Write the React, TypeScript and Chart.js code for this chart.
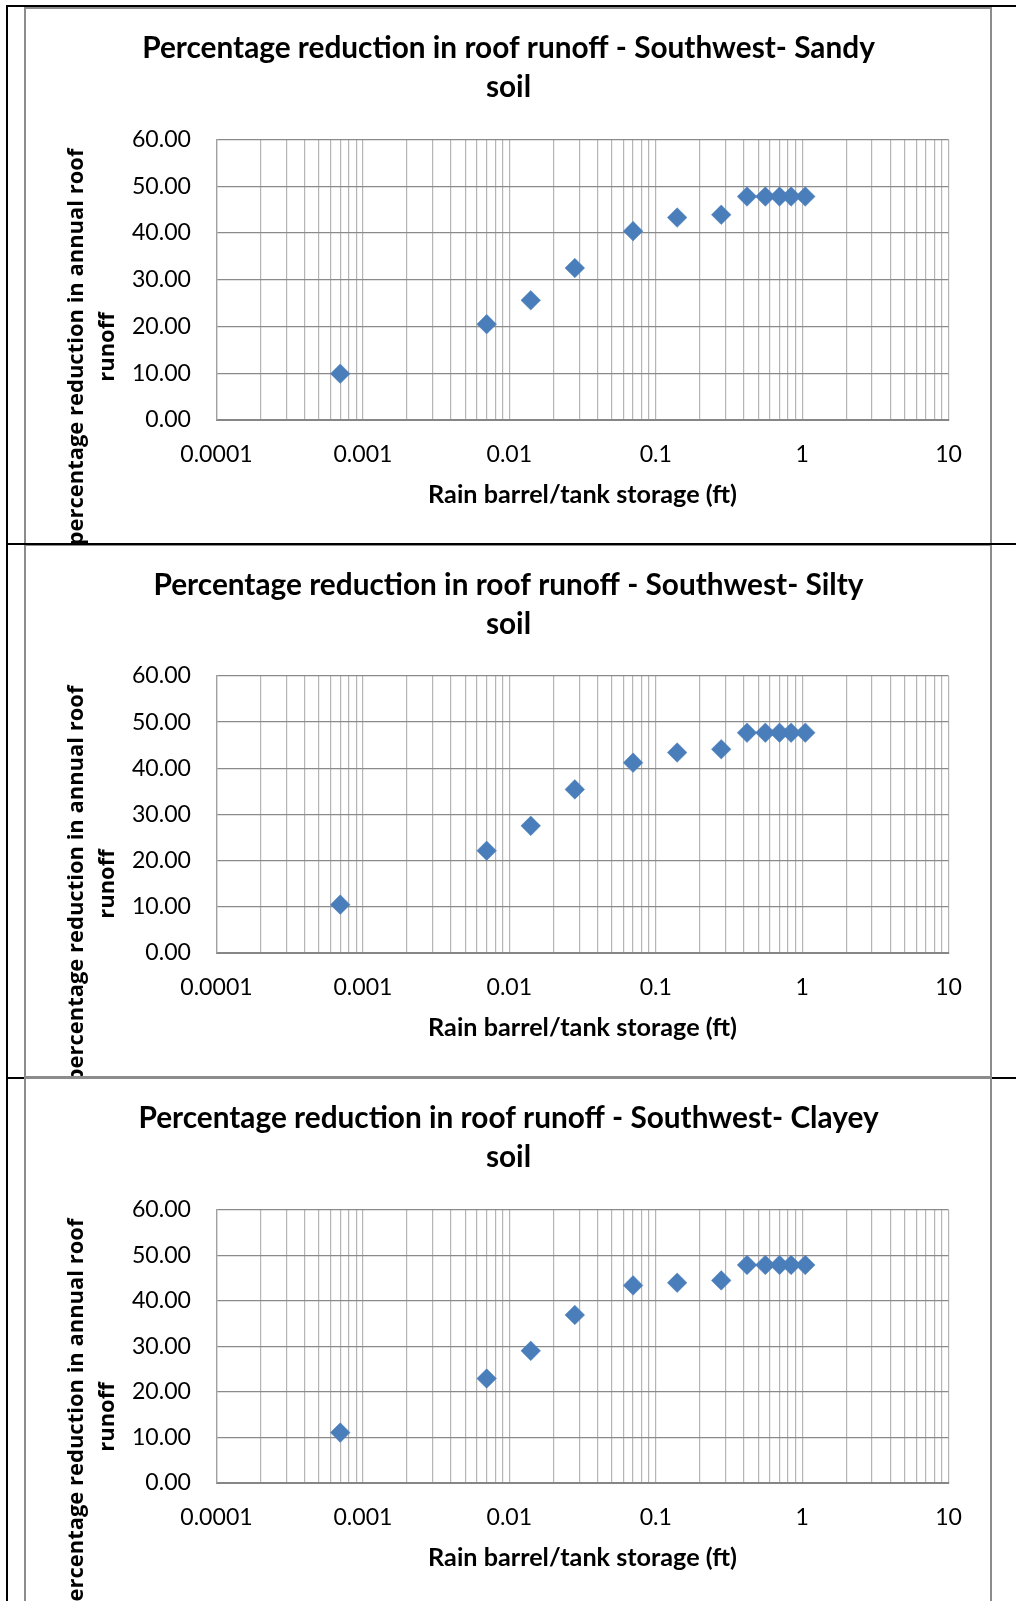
import React, { useEffect, useRef } from "react";
import { Chart, registerables } from "chart.js";

Chart.register(...registerables);

// ---------- data ----------
const storageFt = [0.0007, 0.007, 0.014, 0.028, 0.07, 0.14, 0.28, 0.42, 0.56, 0.7, 0.84, 1.05];
const sandyReduction = [9.9, 20.5, 25.6, 32.5, 40.4, 43.3, 43.9, 47.8, 47.8, 47.8, 47.8, 47.8];
const siltyReduction = [10.4, 22.1, 27.5, 35.4, 41.2, 43.4, 44.1, 47.7, 47.7, 47.7, 47.7, 47.7];
const clayeyReduction = [11.0, 22.9, 29.0, 36.9, 43.4, 44.0, 44.5, 47.9, 47.9, 47.9, 47.9, 47.9];

const soilNames = ["Sandy", "Silty", "Clayey"];
const titlePrefix = "Percentage reduction in roof runoff - Southwest- ";
const titleSecondLine = "soil";
const xAxisTitle = "Rain barrel/tank storage (ft)";
const yAxisTitleLines = ["percentage reduction in annual roof", "runoff"];

const xTickLabels = ["0.0001", "0.001", "0.01", "0.1", "1", "10"];
const xMinorMultipliers = [2, 3, 4, 5, 6, 7, 8, 9];
const yTickValues = [0, 10, 20, 30, 40, 50, 60];

// ---------- helpers ----------
function fitSize(text: string, weight: string, family: string, target: number) {
  const c = document.createElement("canvas").getContext("2d")!;
  c.font = `${weight} 100px ${family}`;
  return (100 * target) / c.measureText(text).width;
}

const majorValues = xTickLabels.map(Number);
const xTickValues: number[] = [];
majorValues.forEach((d, i) => {
  xTickValues.push(d);
  if (i < majorValues.length - 1) xMinorMultipliers.forEach((m) => xTickValues.push(d * m));
});

const W = 968;
const PLOT_LEFT = 192.5;
const PLOT_RIGHT = 924.6;
const Y_W = 110;
const X_H = 60;

type Props = {
  soil: string;
  values: number[];
  height: number;
  plotTop: number;
  plotBottom: number;
};

function SoilChart({ soil, values, height, plotTop, plotBottom }: Props) {
  const ref = useRef<HTMLCanvasElement>(null);
  useEffect(() => {
    const H = height;
    const titleSize = fitSize(titlePrefix + "Sandy", "bold", "Lato", 733);
    const xTitleSize = fitSize(xAxisTitle, "bold", "Lato", 309);
    const yTitleSize = fitSize(yAxisTitleLines[0], "bold", "'Open Sans'", 397);
    const tickSize = fitSize("0.0001", "normal", "Lato", 72.5);
    const xPad = 35 - (tickSize * 1.2) / 2;

    const decor = {
      id: "decor",
      beforeDraw(chart: any) {
        const ctx = chart.ctx;
        ctx.save();
        ctx.fillStyle = "#ffffff";
        ctx.fillRect(0, 0, W, H);
        ctx.restore();
      },
      afterDraw(chart: any) {
        const ctx = chart.ctx;
        const ca = chart.chartArea;
        ctx.save();
        ctx.fillStyle = "#000000";
        ctx.textAlign = "center";
        ctx.textBaseline = "middle";
        ctx.font = `bold ${titleSize}px Lato`;
        ctx.fillText(titlePrefix + soil, 484.5, 41);
        ctx.fillText(titleSecondLine, 484.5, 80);
        ctx.font = `bold ${xTitleSize}px Lato`;
        ctx.fillText(xAxisTitle, (ca.left + ca.right) / 2, ca.bottom + 75);
        ctx.font = `bold ${yTitleSize}px 'Open Sans'`;
        ctx.translate(52.6, 340);
        ctx.rotate(-Math.PI / 2);
        ctx.fillText(yAxisTitleLines[0], 0, 0);
        ctx.fillText(yAxisTitleLines[1], 0, 31.4);
        ctx.restore();
        ctx.save();
        ctx.strokeStyle = "#8c8c8c";
        ctx.lineWidth = 2;
        ctx.strokeRect(1, 1, W - 2, H - 2);
        ctx.restore();
      },
    };

    const tickFont = { family: "Lato", size: tickSize };
    const chart = new Chart(ref.current!, {
      type: "scatter",
      data: {
        datasets: [
          {
            data: storageFt.map((x, i) => ({ x, y: values[i] })),
            pointStyle: "rectRot",
            pointRadius: 9.8,
            pointHoverRadius: 9.8,
            backgroundColor: "#4a7ebb",
            borderColor: "#4a7ebb",
            borderWidth: 0.5,
          },
        ],
      },
      options: {
        responsive: false,
        animation: false,
        events: [],
        layout: {
          padding: {
            left: PLOT_LEFT - Y_W,
            right: W - PLOT_RIGHT,
            top: plotTop,
            bottom: H - plotBottom - X_H,
          },
        },
        plugins: {
          legend: { display: false },
          title: { display: false },
          tooltip: { enabled: false },
        },
        scales: {
          x: {
            type: "logarithmic",
            position: "bottom",
            min: 0.0001,
            max: 10,
            afterBuildTicks: (s: any) => {
              s.ticks = xTickValues.map((v) => ({ value: v, major: majorValues.includes(v) }));
            },
            afterFit: (s: any) => {
              s.height = X_H;
              s.paddingLeft = 0;
              s.paddingRight = 0;
            },
            ticks: {
              autoSkip: false,
              maxRotation: 0,
              minRotation: 0,
              padding: xPad,
              color: "#000000",
              font: tickFont,
              callback: (value: any) => {
                const v = Number(value);
                const i = majorValues.findIndex((m) => Math.abs(m - v) / m < 1e-6);
                return i >= 0 ? xTickLabels[i] : "";
              },
            },
            grid: { color: "#b5b5b5", lineWidth: 1.2, drawTicks: false },
            border: { color: "#868686", width: 2 },
          },
          y: {
            type: "linear",
            min: 0,
            max: 60,
            afterBuildTicks: (s: any) => {
              s.ticks = yTickValues.map((v) => ({ value: v }));
            },
            afterFit: (s: any) => {
              s.width = Y_W;
              s.paddingTop = 0;
              s.paddingBottom = 0;
            },
            ticks: {
              padding: 25.5,
              color: "#000000",
              font: tickFont,
              callback: (value: any) => Number(value).toFixed(2),
            },
            grid: { color: "#8a8a8a", lineWidth: 1.3, drawTicks: false },
            border: { color: "#a0a0a0", width: 1.3 },
          },
        },
      } as any,
      plugins: [decor],
    });
    return () => chart.destroy();
  }, [soil, values, height, plotTop, plotBottom]);

  return <canvas ref={ref} width={W} height={height} style={{ width: W, height, display: "block" }} />;
}

const seriesBySoil = [sandyReduction, siltyReduction, clayeyReduction];
const chartTops = [7, 544, 1077];
const chartHeights = [538, 534, 540];
const plotTops = [132.5, 132, 133];
const plotBottoms = [413, 408.6, 405.6];

export default function App() {
  return (
    <div
      style={{
        position: "absolute",
        left: 0,
        top: 0,
        width: 1016,
        height: 1601,
        overflow: "hidden",
        background: "#ffffff",
      }}
    >
      <div style={{ position: "absolute", left: 6, top: 5, width: 1010, height: 2, background: "#000", zIndex: 3 }} />
      <div style={{ position: "absolute", left: 6, top: 5, width: 2, height: 1596, background: "#000", zIndex: 3 }} />
      <div style={{ position: "absolute", left: 6, top: 1077, width: 1010, height: 2, background: "#000", zIndex: 0 }} />
      {soilNames.map((soil, i) => (
        <div key={soil} style={{ position: "absolute", left: 24, top: chartTops[i], zIndex: 1 }}>
          <SoilChart
            soil={soil}
            values={seriesBySoil[i]}
            height={chartHeights[i]}
            plotTop={plotTops[i]}
            plotBottom={plotBottoms[i]}
          />
        </div>
      ))}
      <div style={{ position: "absolute", left: 6, top: 543, width: 1010, height: 2, background: "#000", zIndex: 3 }} />
    </div>
  );
}
